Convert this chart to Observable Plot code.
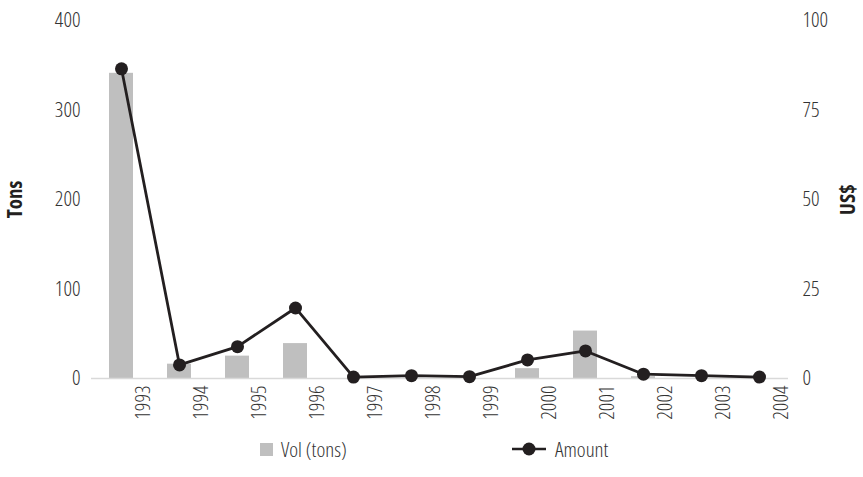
<!DOCTYPE html>
<html>
<head>
<meta charset="utf-8">
<script src="https://cdn.jsdelivr.net/npm/d3@7"></script>
<script src="https://cdn.jsdelivr.net/npm/@observablehq/plot@0.6"></script>
<style>
  body { margin: 0; background: #fff; font-family: "Open Sans", sans-serif; font-stretch: condensed; }
  svg, svg text { font-stretch: condensed; }
  #wrap { position: relative; width: 863px; height: 477px; }
  .legend { position: absolute; top: 435px; font-size: 21px; font-weight: 300; color: #333; display: flex; align-items: center; white-space: nowrap; }
</style>
</head>
<body>
<div id="wrap">
  <div id="chart"></div>
  <div class="legend" style="left:260px;"><span style="display:inline-block;width:13px;height:13px;background:#bfbfbf;margin-right:8px;"></span>Vol (tons)</div>
  <div class="legend" style="left:512px;">
    <svg width="36" height="14" style="margin-right:7px;"><line x1="0" y1="7" x2="34" y2="7" stroke="#231f20" stroke-width="2.5"/><circle cx="17" cy="7" r="6.5" fill="#231f20"/></svg>Amount
  </div>
</div>
<script>
const years = ["1993","1994","1995","1996","1997","1998","1999","2000","2001","2002","2003","2004"];
const volTons = [341, 16, 25, 39, 0, 0, 0, 11, 53, 2, 0, 0];
const amountUSD = [86.5, 3.8, 8.9, 19.7, 0.4, 0.8, 0.5, 5.2, 7.7, 1.2, 0.8, 0.4];
const leftTicks = [0, 100, 200, 300, 400];
const rightTicks = [0, 25, 50, 75, 100];
const ratio = 4; // left max 400 / right max 100

const data = years.map((y, i) => ({year: y, vol: volTons[i], amt: amountUSD[i]}));

const chart = Plot.plot({
  width: 863,
  height: 430,
  marginLeft: 91,
  marginRight: 75,
  marginTop: 20,
  marginBottom: 52,
  style: {fontFamily: '"Open Sans", sans-serif', fontSize: "21px", fontWeight: 300, color: "#333", background: "#fff"},
  x: {domain: years, padding: 0},
  y: {domain: [0, 400]},
  marks: [
    Plot.axisX({tickSize: 0, tickRotate: -90, tickPadding: 7, dx: 22, label: null, fontSize: 21}),
    Plot.axisY({anchor: "left", ticks: leftTicks, tickSize: 0, tickPadding: 11, label: null, fontSize: 21}),
    Plot.axisY({anchor: "right", ticks: rightTicks.map(d => d * ratio), tickFormat: d => d / ratio, tickSize: 0, tickPadding: 14, label: null, fontSize: 21}),
    Plot.text(["Tons"], {frameAnchor: "left", textAnchor: "middle", dx: -76, rotate: -90, fontWeight: "bold", fontSize: 21, fill: "#231f20"}),
    Plot.text(["US$"], {frameAnchor: "right", textAnchor: "middle", dx: 60, rotate: -90, fontWeight: "bold", fontSize: 21, fill: "#231f20"}),
    Plot.barY(data, {x: "year", y: "vol", fill: "#bfbfbf", insetLeft: 17, insetRight: 17}),
    Plot.ruleY([0], {stroke: "#d9d9d9", strokeWidth: 1.5}),
    Plot.line(data, {x: "year", y: d => d.amt * ratio, stroke: "#231f20", strokeWidth: 2.8}),
    Plot.dot(data, {x: "year", y: d => d.amt * ratio, r: 6.5, fill: "#231f20", stroke: "none"})
  ]
});
document.getElementById("chart").appendChild(chart);
</script>
</body>
</html>
